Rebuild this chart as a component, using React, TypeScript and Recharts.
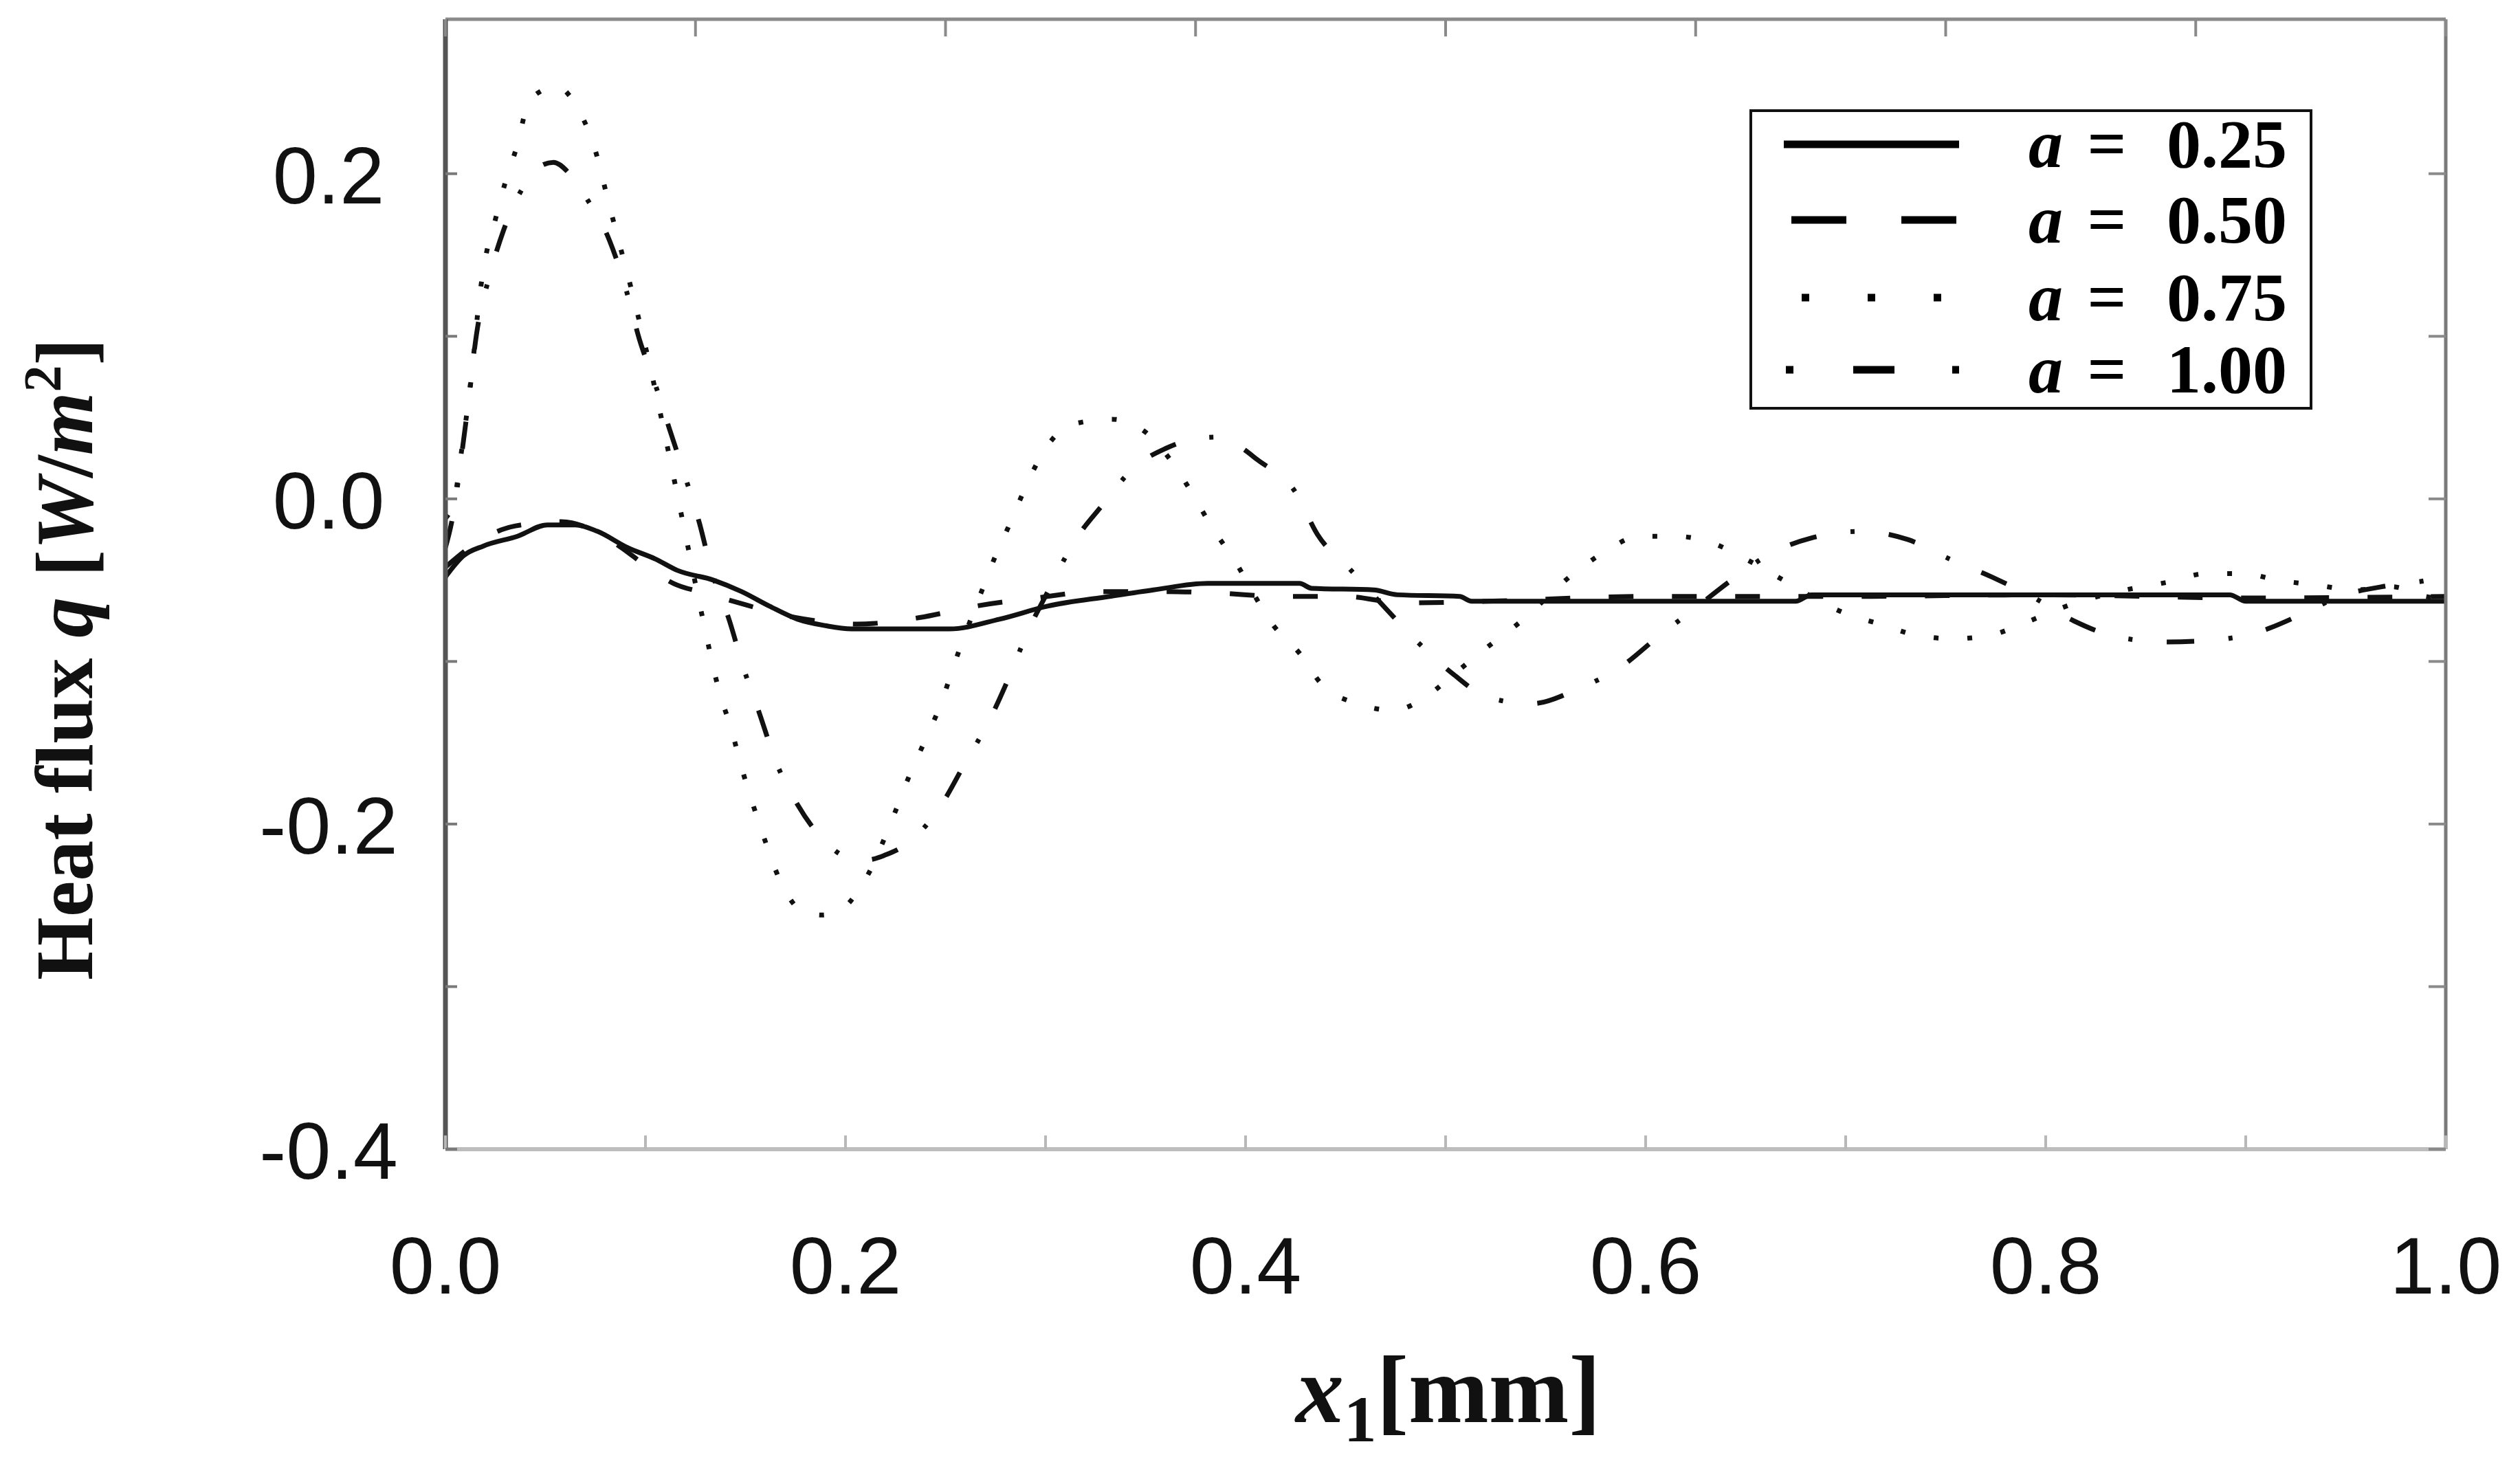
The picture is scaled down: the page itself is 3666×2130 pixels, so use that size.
import { Label, Legend, Line, LineChart, XAxis, YAxis } from "recharts";

// heat flux q along x1 for four values of a
const A025: [number, number][] = [
  [0, -0.048], [0.009, -0.035], [0.019, -0.029], [0.036, -0.023], [0.051, -0.016],
  [0.065, -0.016], [0.076, -0.02], [0.091, -0.03], [0.105, -0.037], [0.116, -0.044],
  [0.134, -0.05], [0.148, -0.057], [0.162, -0.066], [0.176, -0.074], [0.19, -0.078],
  [0.203, -0.08], [0.252, -0.08], [0.277, -0.074], [0.301, -0.066], [0.332, -0.06],
  [0.354, -0.056], [0.381, -0.052], [0.427, -0.052], [0.433, -0.055], [0.464, -0.056],
  [0.476, -0.059], [0.507, -0.06], [0.513, -0.063], [0.6, -0.063], [0.675, -0.063],
  [0.683, -0.059], [0.8, -0.059], [0.892, -0.059], [0.9, -0.063], [1.0, -0.063],
];

const A050: [number, number][] = [
  [0, -0.042], [0.012, -0.03], [0.028, -0.019], [0.045, -0.015], [0.058, -0.014],
  [0.075, -0.02], [0.088, -0.03], [0.1, -0.041], [0.114, -0.052], [0.13, -0.058],
  [0.144, -0.063], [0.175, -0.073], [0.206, -0.077], [0.237, -0.073], [0.265, -0.066],
  [0.295, -0.061], [0.326, -0.057], [0.36, -0.057], [0.387, -0.058], [0.418, -0.06],
  [0.449, -0.06], [0.479, -0.064], [0.52, -0.063], [0.6, -0.06], [0.7, -0.06],
  [0.8, -0.059], [0.9, -0.061], [1.0, -0.06],
];

const A075: [number, number][] = [
  [0, -0.012], [0.005, 0.003], [0.008, 0.029], [0.013, 0.075], [0.017, 0.124],
  [0.02, 0.148], [0.025, 0.172], [0.03, 0.195], [0.036, 0.218], [0.041, 0.242],
  [0.048, 0.251], [0.056, 0.254], [0.062, 0.248], [0.068, 0.236], [0.075, 0.214],
  [0.08, 0.19], [0.085, 0.166], [0.09, 0.143], [0.095, 0.119], [0.104, 0.072],
  [0.112, 0.026], [0.116, 0.002], [0.12, -0.022], [0.128, -0.07], [0.137, -0.119],
  [0.143, -0.142], [0.148, -0.165], [0.154, -0.189], [0.16, -0.211], [0.167, -0.234],
  [0.179, -0.254], [0.188, -0.256], [0.196, -0.254], [0.209, -0.236], [0.225, -0.192],
  [0.232, -0.17], [0.24, -0.148], [0.248, -0.125], [0.254, -0.103], [0.268, -0.057],
  [0.275, -0.035], [0.283, -0.013], [0.291, 0.01], [0.3, 0.031], [0.314, 0.046],
  [0.333, 0.049], [0.35, 0.041], [0.363, 0.023], [0.373, 0.004], [0.383, -0.017],
  [0.394, -0.037], [0.414, -0.078], [0.427, -0.095], [0.438, -0.114], [0.456, -0.126],
  [0.474, -0.13], [0.491, -0.121], [0.504, -0.108], [0.52, -0.092], [0.536, -0.077],
  [0.564, -0.046], [0.579, -0.033], [0.597, -0.023], [0.615, -0.023], [0.633, -0.027],
  [0.65, -0.037], [0.666, -0.048], [0.699, -0.07], [0.717, -0.077], [0.736, -0.084],
  [0.754, -0.086], [0.772, -0.084], [0.79, -0.076], [0.815, -0.064], [0.844, -0.055],
  [0.862, -0.051], [0.88, -0.046], [0.899, -0.046], [0.916, -0.05], [0.935, -0.053],
  [0.955, -0.056], [0.973, -0.054], [0.99, -0.06], [1.0, -0.062],
];

const A100: [number, number][] = [
  [0, -0.03], [0.003, -0.015], [0.01, 0.045], [0.016, 0.105], [0.022, 0.137],
  [0.029, 0.165], [0.039, 0.192], [0.048, 0.205], [0.054, 0.207], [0.062, 0.2],
  [0.071, 0.184], [0.082, 0.159], [0.09, 0.13], [0.097, 0.098], [0.105, 0.07],
  [0.112, 0.043], [0.12, 0.013], [0.127, -0.015], [0.133, -0.044], [0.142, -0.075],
  [0.149, -0.104], [0.157, -0.132], [0.165, -0.161], [0.176, -0.188], [0.19, -0.211],
  [0.2, -0.22], [0.211, -0.222], [0.22, -0.219], [0.232, -0.211], [0.248, -0.188],
  [0.26, -0.162], [0.272, -0.136], [0.282, -0.109], [0.291, -0.082], [0.302, -0.055],
  [0.314, -0.027], [0.329, -0.003], [0.344, 0.019], [0.36, 0.031], [0.375, 0.037],
  [0.386, 0.038], [0.396, 0.033], [0.406, 0.024], [0.425, 0.004], [0.436, -0.022],
  [0.452, -0.043], [0.469, -0.066], [0.486, -0.088], [0.504, -0.108], [0.521, -0.122],
  [0.543, -0.126], [0.566, -0.117], [0.588, -0.103], [0.606, -0.085], [0.624, -0.068],
  [0.644, -0.049], [0.662, -0.034], [0.683, -0.024], [0.708, -0.02], [0.731, -0.025],
  [0.752, -0.037], [0.773, -0.048], [0.793, -0.06], [0.814, -0.075], [0.836, -0.085],
  [0.861, -0.088], [0.883, -0.087], [0.906, -0.082], [0.928, -0.071], [0.947, -0.06],
  [0.973, -0.053], [0.994, -0.049], [1.0, -0.045],
];

const X_TICKS = [0, 0.1, 0.2, 0.3, 0.4, 0.5, 0.6, 0.7, 0.8, 0.9, 1.0];
const X_LABELS = [0, 0.2, 0.4, 0.6, 0.8, 1.0];
const TOP_TICKS = [0, 0.125, 0.25, 0.375, 0.5, 0.625, 0.75, 0.875, 1.0];
const Y_TICKS = [-0.4, -0.3, -0.2, -0.1, 0, 0.1, 0.2];
const Y_LABELS = [-0.4, -0.2, 0, 0.2];
const Y_DOMAIN: [number, number] = [-0.4, 0.295];

const SERIES = [
  { name: "0.25", data: A025, dash: undefined, legendDash: undefined, legendX: 50 },
  { name: "0.50", data: A050, dash: "36 56", legendDash: "80 80", legendX: 61 },
  { name: "0.75", data: A075, dash: "7 42", legendDash: "11 85", legendX: 76 },
  { name: "1.00", data: A100, dash: "40 50 6 50", legendDash: "11 87 60 84 11", legendX: 53 },
];

const toRows = (pts: [number, number][]) => pts.map(([x, q]) => ({ x, q }));

const SANS = "'Liberation Sans', Arial, Helvetica, sans-serif";
const SERIF = "'Liberation Serif', 'Times New Roman', serif";

const isIn = (list: number[], v: number) => list.some((l) => Math.abs(l - v) < 1e-6);

const BottomTick = ({ x, y, payload }: any) => (
  <g>
    <line x1={x} y1={y} x2={x} y2={y - 20} stroke="#b8b8b8" strokeWidth={4} />
    {isIn(X_LABELS, payload.value) && (
      <text x={x} y={y + 210} textAnchor="middle" fontSize={117} fontFamily={SANS} fill="#111">
        {payload.value.toFixed(1)}
      </text>
    )}
  </g>
);

const TopTick = ({ x, y }: any) => (
  <line x1={x} y1={y} x2={x} y2={y + 25} stroke="#8a8a8a" strokeWidth={4} />
);

const LeftTick = ({ x, y, payload }: any) => (
  <g>
    <line x1={x} y1={y} x2={x + 17} y2={y} stroke="#7a7a7a" strokeWidth={4} />
    {isIn(Y_LABELS, payload.value) && (
      <text x={x - 170} y={y + 43} textAnchor="middle" fontSize={117} fontFamily={SANS} fill="#111">
        {payload.value.toFixed(1)}
      </text>
    )}
  </g>
);

const RightTick = ({ x, y }: any) => (
  <line x1={x} y1={y} x2={x - 25} y2={y} stroke="#8a8a8a" strokeWidth={4} />
);

// legend box is 819 x 437; the svg gets 50px of padding so the glyph boxes stay inside
const PAD = 50;
const renderLegend = () => {
  const rowY = [51, 161, 274, 379];
  return (
    <svg width={819 + PAD * 2} height={437 + PAD * 2} style={{ display: "block" }}>
      <rect x={PAD + 2} y={PAD + 2} width={815} height={433} fill="#fff" stroke="#111" strokeWidth={4} />
      {SERIES.map((s, i) => {
        const y = PAD + rowY[i];
        return (
          <g key={s.name} fontFamily={SERIF} fontWeight="bold" fontSize={100} fill="#000">
            <line
              x1={PAD + s.legendX}
              x2={PAD + 305}
              y1={y}
              y2={y}
              stroke="#000"
              strokeWidth={11}
              strokeDasharray={s.legendDash}
            />
            <text x={PAD + 406} y={y + 33} fontStyle="italic">a</text>
            <text x={PAD + 520} y={y + 33} textAnchor="middle">=</text>
            <text x={PAD + 782} y={y + 33} textAnchor="end">{s.name}</text>
          </g>
        );
      })}
    </svg>
  );
};

export default function App() {
  return (
    <div style={{ position: "absolute", left: 0, top: 0, width: 3666, height: 2130, background: "#fff" }}>
      <LineChart width={3666} height={2130} margin={{ top: 27, right: 107, bottom: 0, left: 0 }}>
        <XAxis
          xAxisId="b"
          dataKey="x"
          type="number"
          domain={[0, 1]}
          ticks={X_TICKS}
          interval={0}
          height={458}
          tickSize={0}
          tickMargin={0}
          tickLine={false}
          axisLine={{ stroke: "#bdbdbd", strokeWidth: 6 }}
          tick={BottomTick}
        >
          <Label
            content={() => (
              <text x={2107} y={2069} textAnchor="middle" fontFamily={SERIF} fontWeight="bold" fontSize={140} fill="#111">
                <tspan fontStyle="italic">x</tspan>
                <tspan dy={28} fontSize={95}>1</tspan>
                <tspan dy={-28}>[mm]</tspan>
              </text>
            )}
          />
        </XAxis>
        <XAxis
          xAxisId="t"
          dataKey="x"
          orientation="top"
          type="number"
          domain={[0, 1]}
          ticks={TOP_TICKS}
          interval={0}
          height={1}
          tickSize={0}
          tickMargin={0}
          tickLine={false}
          axisLine={{ stroke: "#8a8a8a", strokeWidth: 5 }}
          tick={TopTick}
        />
        <YAxis
          yAxisId="l"
          type="number"
          domain={Y_DOMAIN}
          allowDataOverflow
          ticks={Y_TICKS}
          interval={0}
          width={648}
          tickSize={0}
          tickMargin={0}
          tickLine={false}
          axisLine={{ stroke: "#555", strokeWidth: 7 }}
          tick={LeftTick}
        >
          <Label
            content={() => (
              <text
                x={134}
                y={959}
                transform="rotate(-90 134 959)"
                textAnchor="middle"
                fontFamily={SERIF}
                fontWeight="bold"
                fontSize={118}
                fill="#111"
              >
                Heat flux <tspan fontStyle="italic">q</tspan> [<tspan fontStyle="italic">W</tspan>/
                <tspan fontStyle="italic">m</tspan>
                <tspan dy={-46} fontSize={78}>2</tspan>
                <tspan dy={46}>]</tspan>
              </text>
            )}
          />
        </YAxis>
        <YAxis
          yAxisId="r"
          orientation="right"
          type="number"
          domain={Y_DOMAIN}
          allowDataOverflow
          ticks={Y_TICKS}
          interval={0}
          width={1}
          tickSize={0}
          tickMargin={0}
          tickLine={false}
          axisLine={{ stroke: "#7a7a7a", strokeWidth: 5 }}
          tick={RightTick}
        />
        <Legend
          layout="horizontal"
          verticalAlign="middle"
          align="center"
          content={renderLegend}
          wrapperStyle={{
            position: "absolute",
            left: 2545 - PAD,
            top: 159 - PAD,
            width: 819 + PAD * 2,
            height: 437 + PAD * 2,
          }}
        />
        {/* invisible copy so the top and right frame axes get a scale */}
        <Line
          xAxisId="t"
          yAxisId="r"
          data={toRows(A025)}
          dataKey="q"
          stroke="none"
          strokeOpacity={0}
          dot={false}
          activeDot={false}
          legendType="none"
          isAnimationActive={false}
        />
        {[...SERIES].reverse().map((s) => (
          <Line
            key={s.name}
            xAxisId="b"
            yAxisId="l"
            data={toRows(s.data)}
            dataKey="q"
            name={`a = ${s.name}`}
            type="monotone"
            stroke="#111"
            strokeWidth={7}
            strokeDasharray={s.dash}
            dot={false}
            activeDot={false}
            isAnimationActive={false}
          />
        ))}
      </LineChart>
    </div>
  );
}
